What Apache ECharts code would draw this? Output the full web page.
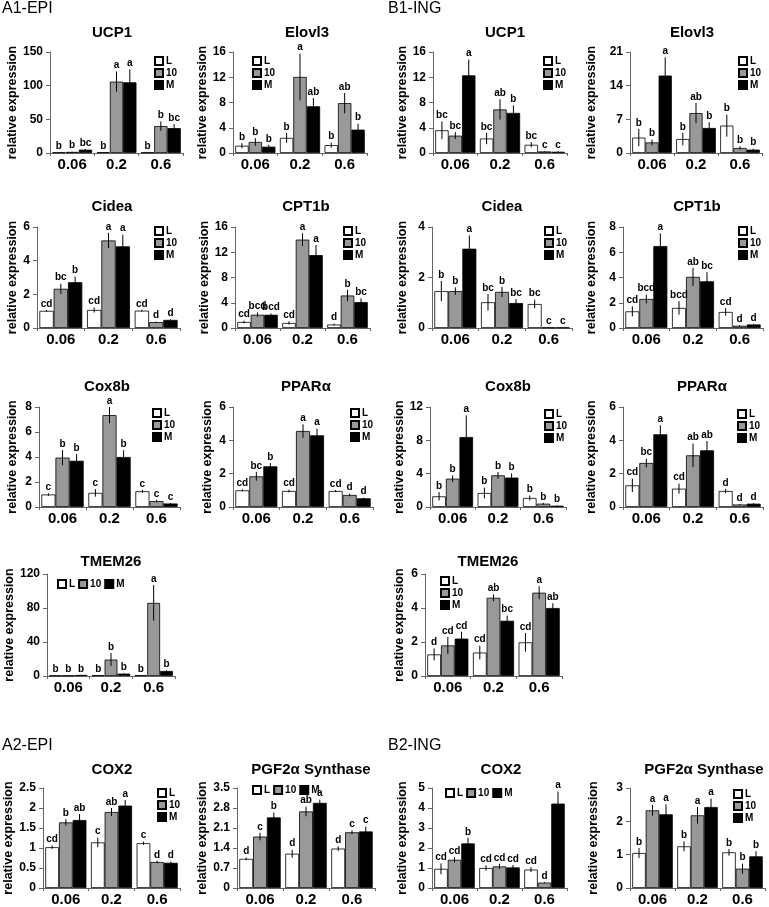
<!DOCTYPE html>
<html><head><meta charset="utf-8">
<script src="https://cdn.jsdelivr.net/npm/echarts@6/dist/echarts.min.js"></script>
<style>html,body{margin:0;padding:0;background:#fff}#c{width:769px;height:907px}</style>
</head><body><div id="c"></div>
<script>
const categories = ['0.06', '0.2', '0.6'];
const groups = ['L', '10', 'M'];
// each *_val / *_err / *_sig: rows = L, 10, M ; columns = 0.06, 0.2, 0.6
// *_axis = [max, interval]
const A1_UCP1_val = [[1, 1.2, 0.8], [1.6, 106, 40], [5, 105, 37]];
const A1_UCP1_err = [[0.2, 0.3, 0.2], [0.3, 15, 7], [1, 19, 6]];
const A1_UCP1_sig = [['b', 'b', 'b'], ['b', 'a', 'b'], ['bc', 'a', 'bc']];
const A1_UCP1_axis = [150, 50];

const A1_Elovl3_val = [[1.15, 2.4, 1.25], [1.75, 12.05, 7.9], [1.0, 7.4, 3.7]];
const A1_Elovl3_err = [[0.4, 0.8, 0.4], [0.6, 3.7, 1.6], [0.3, 1.3, 0.95]];
const A1_Elovl3_sig = [['b', 'b', 'b'], ['b', 'a', 'ab'], ['b', 'ab', 'b']];
const A1_Elovl3_axis = [16, 4];

const B1_UCP1_val = [[3.6, 2.3, 1.3], [2.75, 6.9, 0.25], [12.3, 6.35, 0.2]];
const B1_UCP1_err = [[1.4, 0.9, 0.4], [0.55, 1.6, 0.05], [2.5, 1.2, 0.05]];
const B1_UCP1_sig = [['bc', 'bc', 'bc'], ['bc', 'ab', 'c'], ['a', 'b', 'c']];
const B1_UCP1_axis = [16, 4];

const B1_Elovl3_val = [[3.2, 2.9, 5.7], [2.2, 8.3, 1.05], [16.1, 5.2, 0.7]];
const B1_Elovl3_err = [[1.8, 1.3, 2.3], [0.6, 2.1, 0.35], [3.8, 1.2, 0.2]];
const B1_Elovl3_sig = [['b', 'b', 'b'], ['b', 'ab', 'b'], ['a', 'b', 'b']];
const B1_Elovl3_axis = [21, 7];

const A1_Cidea_val = [[1.02, 1.07, 1.03], [2.33, 5.2, 0.35], [2.72, 4.85, 0.48]];
const A1_Cidea_err = [[0.05, 0.15, 0.05], [0.3, 0.45, 0.03], [0.33, 0.7, 0.04]];
const A1_Cidea_sig = [['cd', 'cd', 'cd'], ['bc', 'a', 'd'], ['b', 'a', 'd']];
const A1_Cidea_axis = [6, 2];

const A1_CPT1b_val = [[0.95, 0.8, 0.55], [2.1, 14.0, 5.15], [2.1, 11.55, 4.1]];
const A1_CPT1b_err = [[0.2, 0.25, 0.15], [0.35, 1.0, 0.9], [0.2, 1.6, 0.6]];
const A1_CPT1b_sig = [['cd', 'cd', 'd'], ['bcd', 'a', 'b'], ['bcd', 'a', 'bc']];
const A1_CPT1b_axis = [16, 4];

const B1_Cidea_val = [[1.46, 1.02, 0.95], [1.46, 1.43, 0.02], [3.14, 0.99, 0.02]];
const B1_Cidea_err = [[0.4, 0.33, 0.17], [0.15, 0.2, 0], [0.53, 0.16, 0]];
const B1_Cidea_sig = [['b', 'bc', 'bc'], ['b', 'b', 'c'], ['a', 'bc', 'c']];
const B1_Cidea_axis = [4, 2];

const B1_CPT1b_val = [[1.32, 1.59, 1.27], [2.3, 4.05, 0.18], [6.49, 3.7, 0.28]];
const B1_CPT1b_err = [[0.4, 0.53, 0.3], [0.35, 0.72, 0.05], [1.0, 0.72, 0.05]];
const B1_CPT1b_sig = [['cd', 'bcd', 'cd'], ['bcd', 'ab', 'd'], ['a', 'bc', 'd']];
const B1_CPT1b_axis = [8, 2];

const A1_Cox8b_val = [[1.0, 1.13, 1.26], [3.95, 7.35, 0.47], [3.7, 4.0, 0.28]];
const A1_Cox8b_err = [[0.1, 0.3, 0.12], [0.6, 0.65, 0.1], [0.55, 0.55, 0.05]];
const A1_Cox8b_sig = [['c', 'c', 'c'], ['b', 'a', 'c'], ['b', 'b', 'c']];
const A1_Cox8b_axis = [8, 2];

const A1_PPARa_val = [[1.0, 0.96, 0.96], [1.84, 4.56, 0.72], [2.44, 4.3, 0.52]];
const A1_PPARa_err = [[0.06, 0.08, 0.06], [0.26, 0.4, 0.08], [0.2, 0.4, 0.04]];
const A1_PPARa_sig = [['cd', 'cd', 'cd'], ['bc', 'a', 'd'], ['b', 'a', 'd']];
const A1_PPARa_axis = [6, 2];

const B1_Cox8b_val = [[1.28, 1.68, 1.08], [3.4, 3.8, 0.4], [8.4, 3.53, 0.15]];
const B1_Cox8b_err = [[0.5, 0.65, 0.3], [0.4, 0.4, 0.1], [2.6, 0.5, 0.05]];
const B1_Cox8b_sig = [['b', 'b', 'b'], ['b', 'b', 'b'], ['a', 'b', 'b']];
const B1_Cox8b_axis = [12, 4];

const B1_PPARa_val = [[1.3, 1.1, 0.96], [2.64, 3.1, 0.15], [4.36, 3.4, 0.2]];
const B1_PPARa_err = [[0.4, 0.3, 0.13], [0.26, 0.7, 0.03], [0.54, 0.56, 0.03]];
const B1_PPARa_sig = [['cd', 'cd', 'd'], ['bc', 'ab', 'd'], ['a', 'ab', 'd']];
const B1_PPARa_axis = [6, 2];

const A1_TMEM26_val = [[0.6, 1.0, 1.0], [0.6, 19.3, 86], [1.2, 2.8, 5.9]];
const A1_TMEM26_err = [[0.1, 0.2, 0.2], [0.1, 7.7, 21], [0.2, 0.5, 0.8]];
const A1_TMEM26_sig = [['b', 'b', 'b'], ['b', 'b', 'a'], ['b', 'b', 'b']];
const A1_TMEM26_axis = [120, 40];

const B1_TMEM26_val = [[1.27, 1.38, 1.98], [1.8, 4.6, 4.9], [2.2, 3.25, 4.0]];
const B1_TMEM26_err = [[0.35, 0.4, 0.55], [0.5, 0.2, 0.38], [0.4, 0.3, 0.28]];
const B1_TMEM26_sig = [['d', 'cd', 'cd'], ['cd', 'ab', 'a'], ['cd', 'bc', 'ab']];
const B1_TMEM26_axis = [6, 2];

const A2_COX2_val = [[1.02, 1.14, 1.12], [1.64, 1.9, 0.65], [1.7, 2.06, 0.63]];
const A2_COX2_err = [[0.04, 0.12, 0.04], [0.08, 0.1, 0.03], [0.15, 0.14, 0.03]];
const A2_COX2_sig = [['cd', 'c', 'c'], ['b', 'ab', 'd'], ['ab', 'a', 'd']];
const A2_COX2_axis = [2.5, 0.5];

const A2_PGF2a_val = [[1.02, 1.2, 1.38], [1.8, 2.68, 1.95], [2.47, 2.98, 1.98]];
const A2_PGF2a_err = [[0.05, 0.14, 0.08], [0.13, 0.17, 0.07], [0.17, 0.11, 0.17]];
const A2_PGF2a_sig = [['d', 'd', 'd'], ['c', 'ab', 'c'], ['b', 'a', 'c']];
const A2_PGF2a_axis = [3.5, 0.7];

const B2_COX2_val = [[0.96, 1.0, 0.92], [1.41, 1.08, 0.27], [2.23, 1.03, 4.22]];
const B2_COX2_err = [[0.27, 0.13, 0.12], [0.13, 0.13, 0.02], [0.28, 0.12, 0.6]];
const B2_COX2_sig = [['cd', 'cd', 'cd'], ['cd', 'cd', 'd'], ['b', 'cd', 'a']];
const B2_COX2_axis = [5, 1];

const B2_PGF2a_val = [[1.05, 1.25, 1.07], [2.33, 2.18, 0.58], [2.21, 2.43, 0.95]];
const B2_PGF2a_err = [[0.15, 0.15, 0.1], [0.16, 0.25, 0.15], [0.3, 0.25, 0.15]];
const B2_PGF2a_sig = [['b', 'b', 'b'], ['a', 'a', 'b'], ['a', 'a', 'b']];
const B2_PGF2a_axis = [3, 1];

const sectionLabels = [['A1-EPI', 2, 10], ['B1-ING', 388, 10], ['A2-EPI', 2, 747], ['B2-ING', 388, 747]];

// layout: plot rect (l, r, t, h), title centre, y-name centre x, legend
const panels = [
  {d: [A1_UCP1_val, A1_UCP1_err, A1_UCP1_sig, A1_UCP1_axis], title: 'UCP1', l: 50, r: 183, t: 52, h: 101, tx: 112, ty: 33, nx: 13, leg: [154, 56, 'vertical']},
  {d: [A1_Elovl3_val, A1_Elovl3_err, A1_Elovl3_sig, A1_Elovl3_axis], title: 'Elovl3', l: 233, r: 367, t: 52, h: 101, tx: 307, ty: 33, nx: 207, leg: [252, 56, 'vertical']},
  {d: [B1_UCP1_val, B1_UCP1_err, B1_UCP1_sig, B1_UCP1_axis], title: 'UCP1', l: 433, r: 567, t: 52, h: 101, tx: 505, ty: 33, nx: 403, leg: [543, 56, 'vertical']},
  {d: [B1_Elovl3_val, B1_Elovl3_err, B1_Elovl3_sig, B1_Elovl3_axis], title: 'Elovl3', l: 630, r: 762, t: 52, h: 101, tx: 692, ty: 33, nx: 592, leg: [738, 56, 'vertical']},

  {d: [A1_Cidea_val, A1_Cidea_err, A1_Cidea_sig, A1_Cidea_axis], title: 'Cidea', l: 37, r: 180, t: 227, h: 101, tx: 112, ty: 207, nx: 13, leg: [154, 226, 'vertical']},
  {d: [A1_CPT1b_val, A1_CPT1b_err, A1_CPT1b_sig, A1_CPT1b_axis], title: 'CPT1b', l: 235, r: 370, t: 227, h: 101, tx: 306, ty: 207, nx: 210, leg: [343, 226, 'vertical']},
  {d: [B1_Cidea_val, B1_Cidea_err, B1_Cidea_sig, B1_Cidea_axis], title: 'Cidea', l: 432, r: 572, t: 227, h: 101, tx: 502, ty: 207, nx: 403, leg: [544, 226, 'vertical']},
  {d: [B1_CPT1b_val, B1_CPT1b_err, B1_CPT1b_sig, B1_CPT1b_axis], title: 'CPT1b', l: 623, r: 763, t: 227, h: 101, tx: 697, ty: 207, nx: 592, leg: [738, 226, 'vertical']},

  {d: [A1_Cox8b_val, A1_Cox8b_err, A1_Cox8b_sig, A1_Cox8b_axis], title: 'Cox8b', l: 39, r: 180, t: 407, h: 100, tx: 107, ty: 387, nx: 13, leg: [152, 408, 'vertical']},
  {d: [A1_PPARa_val, A1_PPARa_err, A1_PPARa_sig, A1_PPARa_axis], title: 'PPARα', l: 233, r: 373, t: 407, h: 100, tx: 306, ty: 387, nx: 208, leg: [350, 408, 'vertical']},
  {d: [B1_Cox8b_val, B1_Cox8b_err, B1_Cox8b_sig, B1_Cox8b_axis], title: 'Cox8b', l: 430, r: 566, t: 407, h: 100, tx: 508, ty: 387, nx: 400, leg: [544, 409, 'vertical']},
  {d: [B1_PPARa_val, B1_PPARa_err, B1_PPARa_sig, B1_PPARa_axis], title: 'PPARα', l: 623, r: 763, t: 407, h: 100, tx: 702, ty: 387, nx: 592, leg: [737, 409, 'vertical']},

  {d: [A1_TMEM26_val, A1_TMEM26_err, A1_TMEM26_sig, A1_TMEM26_axis], title: 'TMEM26', l: 47, r: 175, t: 574, h: 102, tx: 111, ty: 562, nx: 12, leg: [57, 579, 'horizontal']},
  {d: [B1_TMEM26_val, B1_TMEM26_err, B1_TMEM26_sig, B1_TMEM26_axis], title: 'TMEM26', l: 425, r: 562, t: 574, h: 102, tx: 488, ty: 562, nx: 400, leg: [440, 576, 'vertical']},

  {d: [A2_COX2_val, A2_COX2_err, A2_COX2_sig, A2_COX2_axis], title: 'COX2', l: 43, r: 180, t: 788, h: 103, tx: 112, ty: 770, nx: 13, leg: [157, 788, 'vertical']},
  {d: [A2_PGF2a_val, A2_PGF2a_err, A2_PGF2a_sig, A2_PGF2a_axis], title: 'PGF2α Synthase', l: 237, r: 375, t: 788, h: 103, tx: 311, ty: 770, nx: 208, leg: [252, 785, 'horizontal']},
  {d: [B2_COX2_val, B2_COX2_err, B2_COX2_sig, B2_COX2_axis], title: 'COX2', l: 432, r: 567, t: 788, h: 103, tx: 501, ty: 770, nx: 403, leg: [445, 788, 'horizontal']},
  {d: [B2_PGF2a_val, B2_PGF2a_err, B2_PGF2a_sig, B2_PGF2a_axis], title: 'PGF2α Synthase', l: 630, r: 765, t: 788, h: 103, tx: 704, ty: 770, nx: 594, leg: [733, 789, 'vertical']}
];

const FONT = '"Liberation Sans", Arial, sans-serif';
const fills = ['#ffffff', '#999999', '#000000'];
const GAP = 0.1;

const grid = [], xAxis = [], yAxis = [], series = [], legend = [], graphic = [];

sectionLabels.forEach(([t, x, y]) => {
  graphic.push({type: 'text', left: x, top: y - 9, style: {text: t, font: '16px ' + FONT, fill: '#000'}});
});

panels.forEach((p, pi) => {
  const [vals, errs, sigs, ax] = p.d;
  grid.push({left: p.l, top: p.t, width: p.r - p.l, height: p.h, containLabel: false});
  xAxis.push({
    type: 'category', gridIndex: pi, data: categories, boundaryGap: true,
    axisLine: {lineStyle: {color: '#666', width: 1}},
    axisTick: {show: true, length: 3, lineStyle: {color: '#666'}},
    axisLabel: {fontFamily: FONT, fontWeight: 'bold', fontSize: 15, color: '#000', margin: 4}
  });
  yAxis.push({
    type: 'value', gridIndex: pi, min: 0, max: ax[0], interval: ax[1],
    name: 'relative expression', nameLocation: 'middle', nameGap: p.l - p.nx,
    nameTextStyle: {fontFamily: FONT, fontWeight: 'bold', fontSize: 12.5, color: '#000', verticalAlign: 'middle'},
    axisLine: {show: true, lineStyle: {color: '#666', width: 1}},
    axisTick: {show: true, length: 4, lineStyle: {color: '#666'}},
    splitLine: {show: false},
    axisLabel: {fontFamily: FONT, fontWeight: 'bold', fontSize: 12, color: '#000', margin: 7}
  });
  groups.forEach((g, gi) => {
    series.push({
      type: 'bar', name: g, xAxisIndex: pi, yAxisIndex: pi, data: vals[gi],
      barGap: '0%', barCategoryGap: (GAP * 100) + '%',
      itemStyle: {color: fills[gi], borderColor: '#000', borderWidth: 0.8},
      emphasis: {disabled: true}, animation: false
    });
  });
  groups.forEach((g, gi) => {
    series.push({
      type: 'custom', name: 'err' + g, xAxisIndex: pi, yAxisIndex: pi, z: 5,
      data: vals[gi].map((v, i) => [i, v, errs[gi][i]]),
      encode: {x: 0, y: 1},
      animation: false,
      renderItem: (params, api) => {
        const ci = api.value(0), v = api.value(1), e = api.value(2);
        const band = api.size([1, 0])[0];
        const bw = band * (1 - GAP) / 3;
        const x = api.coord([ci, v])[0] + (gi - 1) * bw;
        const top = api.coord([ci, v + e])[1];
        const bot = api.coord([ci, Math.max(v - e, 0)])[1];
        return {type: 'group', children: [
          {type: 'line', shape: {x1: x, y1: top, x2: x, y2: bot}, style: {stroke: '#000', lineWidth: 1}},
          {type: 'text', x: x, y: top - 1, style: {text: sigs[gi][params.dataIndex], align: 'center', verticalAlign: 'bottom', font: 'bold 10px ' + FONT, fill: '#000'}}
        ]};
      }
    });
  });
  legend.push({
    data: groups, left: p.leg[0], top: p.leg[1], orient: p.leg[2], padding: 0,
    itemWidth: 8, itemHeight: 8, itemGap: p.leg[2] === 'vertical' ? 2 : 3, icon: 'rect',
    selectedMode: false,
    textStyle: {fontFamily: FONT, fontWeight: 'bold', fontSize: 10, color: '#000', padding: [0, 0, 0, -2]}
  });
  graphic.push({type: 'text', x: p.tx, y: p.ty, style: {text: p.title, align: 'center', verticalAlign: 'middle', font: 'bold 15px ' + FONT, fill: '#000'}});
});

const chart = echarts.init(document.getElementById('c'), null, {renderer: 'canvas'});
chart.setOption({animation: false, grid, xAxis, yAxis, series, legend, graphic});
</script>
</body></html>
